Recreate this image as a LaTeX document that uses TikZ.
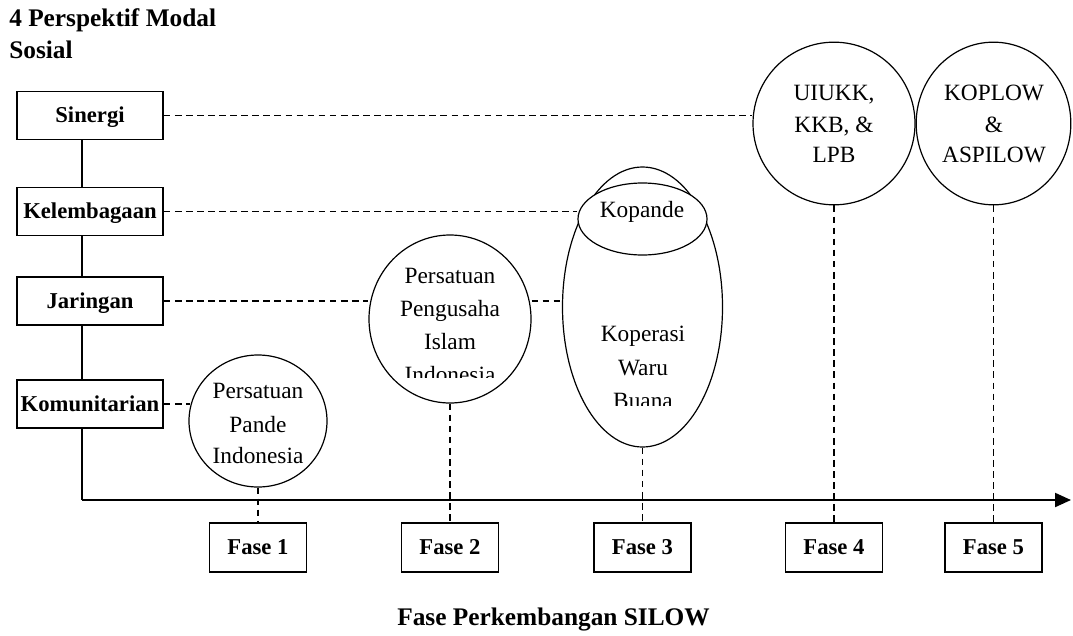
\documentclass[tikz,border=0pt]{standalone}
\usepackage{fontspec}
\setmainfont{Liberation Serif}
\usetikzlibrary{shapes.geometric,arrows.meta}
\begin{document}
\begin{tikzpicture}[x=0.75pt,y=-0.75pt,
  lbl/.style={draw, line width=1.2pt, fill=white, minimum width=109.5pt, minimum height=36pt, inner sep=0pt, text height=11.2pt, text depth=0pt, font=\bfseries\fontsize{17}{19}\selectfont},
  fasebox/.style={draw, line width=1.2pt, fill=white, minimum width=72.75pt, minimum height=36.75pt, inner sep=0pt, text height=11.2pt, text depth=0pt, font=\bfseries\fontsize{17}{19}\selectfont},
  ell/.style={draw, ellipse, line width=0.9pt, inner sep=0pt},
  txt/.style={anchor=base, inner sep=0pt, font=\fontsize{17.5}{20}\selectfont},
  ttl/.style={anchor=base west, inner sep=0pt, font=\bfseries\fontsize{19}{21}\selectfont},
  dsh/.style={dash pattern=on 5pt off 3.3pt, line width=1pt},
  vline/.style={line width=1.3pt}
]
\useasboundingbox (0,0) rectangle (1073,635);

% title
\node[ttl] (t1) at (9,27) {4 Perspektif Modal};
\node[ttl] (t2) at (9,59) {Sosial};

% left boxes
\node[lbl] (sin) at (90,115.5) {Sinergi};
\node[lbl] (kel) at (90,211.5) {Kelembagaan};
\node[lbl] (jar) at (90,301) {Jaringan};
\node[lbl] (kom) at (90,404) {Komunitarian};

% axis
\coordinate (o) at (82,500);
\coordinate (xend) at (1071,500);
\draw[vline] (sin.south -| o) -- (kel.north -| o);
\draw[vline] (kel.south -| o) -- (jar.north -| o);
\draw[vline] (jar.south -| o) -- (kom.north -| o);
\draw[vline] (kom.south -| o) -- (o);
\draw[line width=1.6pt, -{Triangle[length=12pt,width=10.5pt]}] (o) -- (xend);

% phase boxes
\node[fasebox] (f1) at (258,547.5) {Fase 1};
\node[fasebox] (f2) at (450,547.5) {Fase 2};
\node[fasebox] (f3) at (642.5,547.5) {Fase 3};
\node[fasebox] (f4) at (834,547.5) {Fase 4};
\node[fasebox] (f5) at (993.5,547.5) {Fase 5};

% ellipses
\node[ell, minimum width=103.5pt, minimum height=99pt] (ppi) at (258,421) {};
\node[ell, minimum width=121.5pt, minimum height=126pt] (ppii) at (450,319) {};
\node[ell, minimum width=120pt, minimum height=210pt] (kwb) at (642.5,307) {};
\node[ell, fill=white, minimum width=96.75pt, minimum height=54pt] (kop) at (642.5,219) {};
\node[ell, minimum width=121.5pt, minimum height=122pt] (u4) at (834,123.5) {};
\node[ell, minimum width=116pt, minimum height=122pt] (u5) at (993.5,123.5) {};

% ellipse texts
\node[txt] (ppiA) at (258,398) {Persatuan};
\node[txt] (ppiB) at (258,432) {Pande};
\node[txt] (ppiC) at (258,463) {Indonesia};

\node[txt] (ppiiA) at (450,283.3) {Persatuan};
\node[txt] (ppiiB) at (450,316.5) {Pengusaha};
\node[txt] (ppiiC) at (450,349.3) {Islam};
\begin{scope}
  \clip (369,360) rectangle (531,377.3);
  \node[txt] (ppiiD) at (450,382.3) {Indonesia};
\end{scope}

\node[txt] (kopA) at (642,217.3) {Kopande};
\node[txt] (kwbA) at (643,341.7) {Koperasi};
\node[txt] (kwbB) at (643,375) {Waru};
\begin{scope}
  \clip (563,385) rectangle (723,405);
  \node[txt] (kwbC) at (643,408.3) {Buana};
\end{scope}

\node[txt] (u4A) at (834,100) {UIUKK,};
\node[txt] (u4B) at (834,132) {KKB, \&};
\node[txt] (u4C) at (834,162) {LPB};
\node[txt] (u5A) at (994,100) {KOPLOW};
\node[txt] (u5B) at (994,132) {\&};
\node[txt] (u5C) at (994,162) {ASPILOW};

% dashed horizontal connectors
\draw[dsh] (sin.east) -- (sin.east -| u4.west);
\draw[dsh] (kel.east) -- (kel.east -| kop.west);
\draw[dsh] (jar.east) -- (jar.east -| ppii.west);
\draw[dsh] (jar.east -| ppii.east) -- (jar.east -| kwb.west);
\draw[dsh] (kom.east) -- ([xshift=1.5pt]kom.east -| ppi.west);

% dashed vertical connectors
\draw[dsh] (ppi.south) -- (f1.north);
\draw[dsh] (ppii.south) -- (f2.north);
\draw[dsh] (kwb.south) -- (f3.north);
\draw[dsh] (u4.south) -- (f4.north);
\draw[dsh] (u5.south) -- (f5.north);

% caption
\node[anchor=base, inner sep=0pt, font=\bfseries\fontsize{19}{21}\selectfont] (cap) at (553.5,625) {Fase Perkembangan SILOW};
\end{tikzpicture}
\end{document}
